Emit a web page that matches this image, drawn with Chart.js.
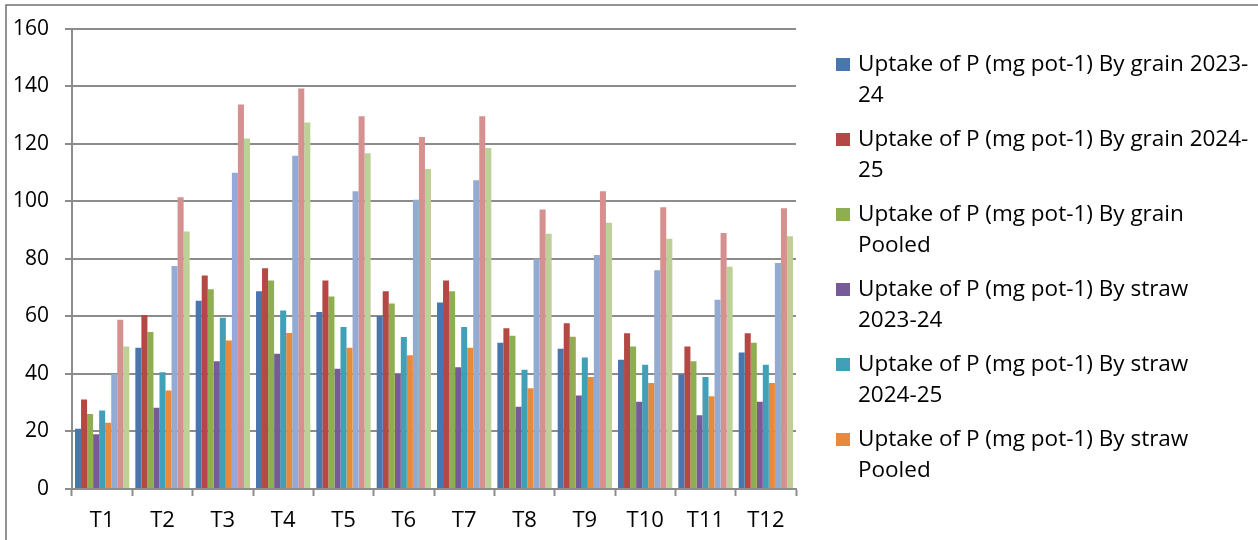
<!DOCTYPE html>
<html>
<head>
<meta charset="utf-8">
<script src="https://cdn.jsdelivr.net/npm/chart.js@4.4.1/dist/chart.umd.min.js"></script>
<style>
  html, body { margin: 0; padding: 0; background: #fff; }
  #wrap { position: relative; width: 1258px; height: 540px; }
</style>
</head>
<body>
<div id="wrap"><canvas id="chart_uptakeP"></canvas></div>
<script>
// treatments
var treatments = ['T1', 'T2', 'T3', 'T4', 'T5', 'T6', 'T7', 'T8', 'T9', 'T10', 'T11', 'T12'];

// values (mg pot-1)
var grain2324 = [20.9, 49.1, 65.4, 68.7, 61.5, 60.1, 64.8, 50.8, 48.7, 44.9, 39.8, 47.4];
var grain2425 = [31.1, 60.5, 74.2, 76.7, 72.5, 68.7, 72.5, 55.9, 57.6, 54.1, 49.5, 54.1];
var grainPooled = [26.1, 54.6, 69.4, 72.5, 66.9, 64.5, 68.7, 53.3, 52.9, 49.5, 44.4, 50.8];
var straw2324 = [19.0, 28.2, 44.4, 47.0, 41.8, 40.0, 42.3, 28.6, 32.5, 30.3, 25.6, 30.3];
var straw2425 = [27.3, 40.6, 59.5, 62.0, 56.3, 52.8, 56.3, 41.4, 45.7, 43.2, 38.9, 43.2];
var strawPooled = [23.0, 34.2, 51.6, 54.2, 49.1, 46.5, 49.1, 35.0, 38.9, 36.8, 32.2, 36.8];
var total2324 = [40.0, 77.5, 109.9, 115.8, 103.5, 100.5, 107.3, 80.0, 81.3, 76.0, 65.8, 78.5];
var total2425 = [58.8, 101.4, 133.6, 139.2, 129.5, 122.3, 129.5, 97.1, 103.5, 97.9, 89.0, 97.6];
var totalPooled = [49.5, 89.5, 121.8, 127.4, 116.7, 111.2, 118.5, 88.7, 92.5, 87.0, 77.2, 87.8];

var seriesLabels = [
    'Uptake of P (mg pot-1) By grain 2023-24',
    'Uptake of P (mg pot-1) By grain 2024-25',
    'Uptake of P (mg pot-1) By grain Pooled',
    'Uptake of P (mg pot-1) By straw 2023-24',
    'Uptake of P (mg pot-1) By straw 2024-25',
    'Uptake of P (mg pot-1) By straw Pooled',
    'Total uptake of P (mg pot-1) 2023-24',
    'Total uptake of P (mg pot-1) 2024-25',
    'Total uptake of P (mg pot-1) Pooled'
];
var seriesValues = [grain2324, grain2425, grainPooled, straw2324, straw2425, strawPooled, total2324, total2425, totalPooled];
var seriesColors = ['#4876af', '#b54845', '#8fae51', '#775b98', '#41a0b8', '#e88a3e', '#93abd2', '#d4918f', '#bcd197'];
var legendCount = 6; // only the first six show in the legend

var FONT = '"Open Sans"';
var GRID = '#8c8c8c';

var datasets = seriesValues.map(function(vals, i) {
    return {
        label: seriesLabels[i],
        data: vals,
        backgroundColor: seriesColors[i],
        borderWidth: 0,
        barPercentage: 1.0,
        categoryPercentage: 0.9
    };
});

function wrapText(ctx, text, maxWidth) {
    // break at spaces and after hyphens, like the office legend does
    var tokens = text.match(/[^ \-]+-?|\s+/g) || [];
    var lines = [], cur = '';
    tokens.forEach(function(tok) {
        var test = cur + tok;
        if (cur.trim() && ctx.measureText(test.trimEnd()).width > maxWidth) {
            lines.push(cur.trimEnd());
            cur = tok.trimStart();
        } else {
            cur = test;
        }
    });
    if (cur.trim()) lines.push(cur.trimEnd());
    return lines;
}

var chart_uptakeP = new Chart(document.getElementById('chart_uptakeP'), {
    type: 'bar',
    data: {
        labels: treatments,
        datasets: datasets
    },
    options: {
        animation: false,
        responsive: true,
        maintainAspectRatio: false,
        layout: {
            padding: { left: 0, top: 22, right: 462, bottom: 0 }
        },
        plugins: {
            legend: { display: false },
            tooltip: { enabled: false }
        },
        scales: {
            x: {
                grid: {
                    display: true,
                    drawOnChartArea: false,
                    drawTicks: true,
                    tickLength: 7,
                    tickWidth: 2,
                    tickColor: GRID,
                    offset: true
                },
                border: { display: true, color: GRID, width: 2 },
                ticks: {
                    color: '#000',
                    padding: 12,
                    font: { family: FONT, size: 22 }
                },
                afterFit: function(scale) { scale.height = 51; }
            },
            y: {
                min: 0,
                max: 160,
                grid: {
                    color: GRID,
                    lineWidth: 2,
                    drawTicks: true,
                    tickLength: 7,
                    tickColor: GRID
                },
                border: { display: true, color: GRID, width: 2 },
                ticks: {
                    stepSize: 20,
                    color: '#000',
                    padding: 16,
                    font: { family: FONT, size: 21 }
                },
                afterFit: function(scale) { scale.width = 72; }
            }
        }
    },
    plugins: [{
        id: 'frameAndLegend',
        beforeDraw: function(chart) {
            var ctx = chart.ctx;
            ctx.save();
            ctx.fillStyle = 'white';
            ctx.fillRect(0, 0, chart.width, chart.height);
            ctx.strokeStyle = '#707070';
            ctx.lineWidth = 1.5;
            ctx.beginPath();
            ctx.moveTo(6, chart.height);
            ctx.lineTo(6, 5);
            ctx.lineTo(chart.width, 5);
            ctx.stroke();
            ctx.restore();
        },
        afterDraw: function(chart) {
            var ctx = chart.ctx;
            var x0 = chart.chartArea.right + 40;
            var textX = x0 + 22;
            var maxW = 393;
            ctx.save();
            ctx.font = '22.5px ' + FONT;
            ctx.textBaseline = 'middle';
            ctx.textAlign = 'left';
            for (var i = 0; i < legendCount; i++) {
                var y = 65 + i * 75;
                var ds = chart.data.datasets[i];
                ctx.fillStyle = ds.backgroundColor;
                ctx.fillRect(x0, y - 7, 14, 13);
                ctx.fillStyle = '#000';
                var lines = wrapText(ctx, ds.label, maxW);
                lines.forEach(function(line, j) {
                    ctx.fillText(line, textX, y + j * 31);
                });
            }
            ctx.restore();
        }
    }]
});
</script>
</body>
</html>
